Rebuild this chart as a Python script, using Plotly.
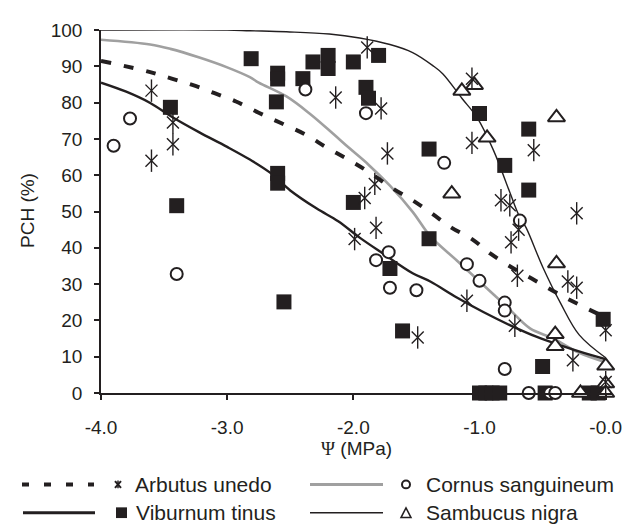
import plotly.graph_objects as go

# ---------------- data ----------------
arb_x = [-3.60, -3.60, -3.43, -3.43, -2.14, -1.89, -1.78, -1.73, -1.83, -1.91, -1.82, -1.99,
         -1.49, -1.06, -1.06, -0.57, -0.83, -0.76, -0.23, -0.69, -0.75, -0.70, -0.30, -0.23,
         -1.10, -0.72, 0.0, -0.26, 0.0]
arb_y = [83.3, 64.0, 74.5, 68.5, 81.4, 95.2, 78.4, 66.0, 57.6, 53.7, 45.5, 42.4,
         15.3, 86.6, 68.9, 66.9, 53.1, 51.7, 49.5, 45.0, 41.5, 32.3, 30.7, 29.0,
         25.4, 18.5, 17.3, 9.0, 3.0]

vib_x = [-3.45, -3.40, -2.81, -2.60, -2.60, -2.61, -2.40, -2.32, -2.20, -2.20, -2.00, -1.80,
         -1.90, -1.88, -1.40, -2.00, -2.60, -2.60, -1.00, -0.61, -0.80, -0.61, -1.40, -1.71,
         -2.55, -1.61, -0.02, -0.50, -1.00, -0.95, -0.90, -0.84, -0.48, -0.13, -0.06]
vib_y = [78.7, 51.6, 92.1, 88.1, 86.5, 80.2, 86.6, 91.2, 93.0, 89.4, 91.2, 93.0,
         84.2, 81.2, 67.2, 52.5, 60.5, 57.8, 77.0, 72.7, 62.7, 55.9, 42.5, 34.3,
         25.1, 17.1, 20.3, 7.3, 0.0, 0.0, 0.0, 0.0, 0.0, 0.0, 0.0]

cor_x = [-3.77, -3.90, -3.40, -2.38, -1.90, -1.28, -0.68, -1.10, -1.00, -0.80, -0.80,
         -1.72, -1.82, -1.71, -1.50, -0.80, -0.61, -0.44, -0.40]
cor_y = [75.6, 68.1, 32.8, 83.6, 77.1, 63.4, 47.5, 35.5, 30.9, 24.9, 22.7,
         38.8, 36.6, 29.0, 28.3, 6.6, 0.0, 0.0, 0.0]

sam_x = [-1.04, -1.14, -0.94, -0.39, -1.22, -0.39, -0.40, -0.40, 0.0, 0.0, -0.20, 0.0]
sam_y = [84.8, 83.2, 70.3, 75.9, 54.9, 35.7, 16.2, 12.9, 7.5, 2.6, 0.0, 0.0]

# fitted curves
arb_fit_x = [-4.0, -3.61, -3.44, -3.27, -3.10, -2.93, -2.75, -2.57, -2.38, -2.21, -2.03, -1.87,
             -1.70, -1.54, -1.38, -1.22, -1.06, -0.91, -0.73, -0.56, -0.39, -0.22, 0.0]
arb_fit_y = [91.5, 88.4, 86.6, 84.8, 82.6, 80.3, 77.2, 74.3, 71.2, 67.6, 64.1, 60.7,
             56.6, 53.3, 49.5, 45.5, 42.4, 38.3, 34.3, 31.0, 27.6, 24.5, 20.8]

cor_fit_x = [-4.0, -3.61, -3.45, -3.22, -3.0, -2.82, -2.75, -2.53, -2.34, -2.16, -2.03, -1.88,
             -1.71, -1.53, -1.39, -1.18, -1.0, -0.79, -0.60, -0.42, -0.21, 0.0]
cor_fit_y = [97.3, 96.0, 94.8, 92.4, 89.7, 87.0, 85.5, 81.7, 76.8, 71.4, 67.4, 62.9,
             57.1, 49.9, 43.2, 36.5, 30.7, 24.0, 17.8, 15.1, 11.1, 8.5]

vib_fit_x = [-4.0, -3.80, -3.61, -3.43, -3.22, -3.0, -2.82, -2.66, -2.50, -2.29, -2.12, -1.95,
             -1.76, -1.53, -1.39, -1.18, -0.97, -0.76, -0.55, -0.34, -0.18, 0.0]
vib_fit_y = [85.5, 83.0, 79.9, 75.9, 71.8, 67.8, 64.3, 60.7, 55.8, 50.8, 47.3, 42.8,
             38.3, 33.0, 30.7, 26.3, 22.3, 18.7, 15.5, 12.9, 11.1, 9.3]

sam_fit_x = [-4.0, -3.0, -2.82, -2.53, -2.19, -1.95, -1.71, -1.53, -1.37, -1.29, -1.14, -1.02,
             -0.89, -0.76, -0.69, -0.63, -0.50, -0.36, -0.21, 0.0]
sam_fit_y = [100.0, 100.0, 99.8, 99.5, 98.9, 97.8, 96.0, 93.8, 90.2, 87.9, 81.2, 75.9,
             66.9, 55.3, 49.1, 45.5, 34.8, 24.9, 16.0, 9.7]

x_tick_vals = [-4.0, -3.0, -2.0, -1.0, 0.0]
x_tick_text = ["-4.0", "-3.0", "-2.0", "-1.0", "-0.0"]
y_tick_vals = [0, 10, 20, 30, 40, 50, 60, 70, 80, 90, 100]

legend_names = ["Arbutus unedo", "Viburnum tinus", "Cornus sanguineum", "Sambucus nigra"]
x_title = "<span style='font-family:Liberation Serif'>Ψ</span> (MPa)"
y_title = "PCH (%)"

# ---------------- styling ----------------
BLK = "#231f20"
GRY = "#a0a0a0"
FONT = "Liberation Sans, Arial, Helvetica, sans-serif"

# the page body adds an 8px margin, so the figure is laid out 8px up/left
OFF = 8
W, H = 632, 531
ML = 101 - OFF           # plot left edge at window x=101
MT = 20 - OFF            # plot top at window y=20
MB = H - (393 - OFF)     # plot bottom at window y=393
MR = W - (612 - OFF)     # plot right at window x=612
PW, PH = W - ML - MR, H - MT - MB

fig = go.Figure()

# curves
fig.add_trace(go.Scatter(x=sam_fit_x, y=sam_fit_y, mode="lines", line=dict(color=BLK, width=1.4),
                         hoverinfo="skip", showlegend=False, line_shape="spline"))
fig.add_trace(go.Scatter(x=cor_fit_x, y=cor_fit_y, mode="lines", line=dict(color=GRY, width=2.6),
                         hoverinfo="skip", showlegend=False, line_shape="spline"))
fig.add_trace(go.Scatter(x=vib_fit_x, y=vib_fit_y, mode="lines", line=dict(color=BLK, width=2.4),
                         hoverinfo="skip", showlegend=False, line_shape="spline"))
fig.add_trace(go.Scatter(x=arb_fit_x, y=arb_fit_y, mode="lines",
                         line=dict(color=BLK, width=4, dash="10px,13px"),
                         hoverinfo="skip", showlegend=False, line_shape="spline"))

# points
fig.add_trace(go.Scatter(x=vib_x, y=vib_y, mode="markers", cliponaxis=False, showlegend=False,
                         marker=dict(symbol="square", size=15, color=BLK, line=dict(width=0))))
fig.add_trace(go.Scatter(x=cor_x, y=cor_y, mode="markers", cliponaxis=False, showlegend=False,
                         marker=dict(symbol="circle", size=12, color="white",
                                     line=dict(color=BLK, width=2))))
fig.add_trace(go.Scatter(x=sam_x, y=sam_y, mode="markers", cliponaxis=False, showlegend=False,
                         marker=dict(symbol="triangle-up", size=15, color="white",
                                     line=dict(color=BLK, width=2))))
fig.add_trace(go.Scatter(x=arb_x, y=arb_y, mode="markers", cliponaxis=False, showlegend=False,
                         marker=dict(symbol="x-thin-open", size=12, color=BLK,
                                     line=dict(color=BLK, width=1.4))))
fig.add_trace(go.Scatter(x=arb_x, y=arb_y, mode="markers", cliponaxis=False, showlegend=False,
                         marker=dict(symbol="line-ns-open", size=16, color=BLK,
                                     line=dict(color=BLK, width=1.4))))


# ---------------- manual legend & titles (window pixel -> paper) ----------------
def px(x):
    return (x - OFF - ML) / PW


def py(y):
    return (H - MB - (y - OFF)) / PH


shapes = []
annotations = []


def hline(x0, x1, y, color, width, dash="solid"):
    shapes.append(dict(type="line", xref="paper", yref="paper", x0=px(x0), x1=px(x1),
                       y0=py(y), y1=py(y), line=dict(color=color, width=width, dash=dash)))


def label(x, y, text, size=21, xanchor="left", angle=0):
    annotations.append(dict(xref="paper", yref="paper", x=px(x), y=py(y), text=text,
                            showarrow=False, xanchor=xanchor, yanchor="middle", textangle=angle,
                            font=dict(family=FONT, size=size, color=BLK)))


R1, R2 = 487, 516
# Arbutus
hline(22, 94, R1, BLK, 4, "7px,15px")
shapes.append(dict(type="line", xref="paper", yref="paper", x0=px(115), x1=px(121),
                   y0=py(R1 - 3.5), y1=py(R1 + 3.5), line=dict(color=BLK, width=2)))
shapes.append(dict(type="line", xref="paper", yref="paper", x0=px(115), x1=px(121),
                   y0=py(R1 + 3.5), y1=py(R1 - 3.5), line=dict(color=BLK, width=2)))
shapes.append(dict(type="line", xref="paper", yref="paper", x0=px(118), x1=px(118),
                   y0=py(R1 - 4), y1=py(R1 + 4), line=dict(color=BLK, width=1.5)))
label(133, R1, legend_names[0])
# Viburnum
hline(23, 95, R2, BLK, 3)
shapes.append(dict(type="rect", xref="paper", yref="paper", x0=px(116), x1=px(127),
                   y0=py(R2 - 5.5), y1=py(R2 + 5.5), fillcolor=BLK, line=dict(width=0)))
label(134, R2, legend_names[1])
# Cornus
hline(310, 383, R1, GRY, 3)
shapes.append(dict(type="circle", xref="paper", yref="paper", x0=px(402), x1=px(410),
                   y0=py(R1 - 4), y1=py(R1 + 4), fillcolor="white", line=dict(color=BLK, width=2)))
label(424, R1, legend_names[2])
# Sambucus
hline(310, 383, R2, BLK, 1.5)
shapes.append(dict(type="path", xref="paper", yref="paper",
                   path=f"M {px(401)},{py(R2 + 5)} L {px(411)},{py(R2 + 5)} L {px(406)},{py(R2 - 5)} Z",
                   fillcolor="white", line=dict(color=BLK, width=1.5)))
label(424, R2, legend_names[3])

# axis titles
label(356, 450, x_title, size=19, xanchor="center")
label(27, 206, y_title, size=19, xanchor="center", angle=-90)

axis_common = dict(showgrid=False, zeroline=False, showline=True, linecolor=BLK, linewidth=1.5,
                   ticks="outside", ticklen=5, tickwidth=1.5, tickcolor=BLK,
                   tickfont=dict(family=FONT, size=19, color=BLK))

fig.update_layout(
    width=W, height=H,
    margin=dict(l=ML, r=MR, t=MT, b=MB, pad=0),
    paper_bgcolor="white", plot_bgcolor="white",
    showlegend=False,
    shapes=shapes, annotations=annotations,
    xaxis=dict(range=[-4.0, 0.05], tickvals=x_tick_vals, ticktext=x_tick_text,
               ticklabelstandoff=11, **axis_common),
    yaxis=dict(range=[0, 100], tickvals=y_tick_vals, ticklabelstandoff=8, **axis_common),
)

fig.write_html("out.html")
